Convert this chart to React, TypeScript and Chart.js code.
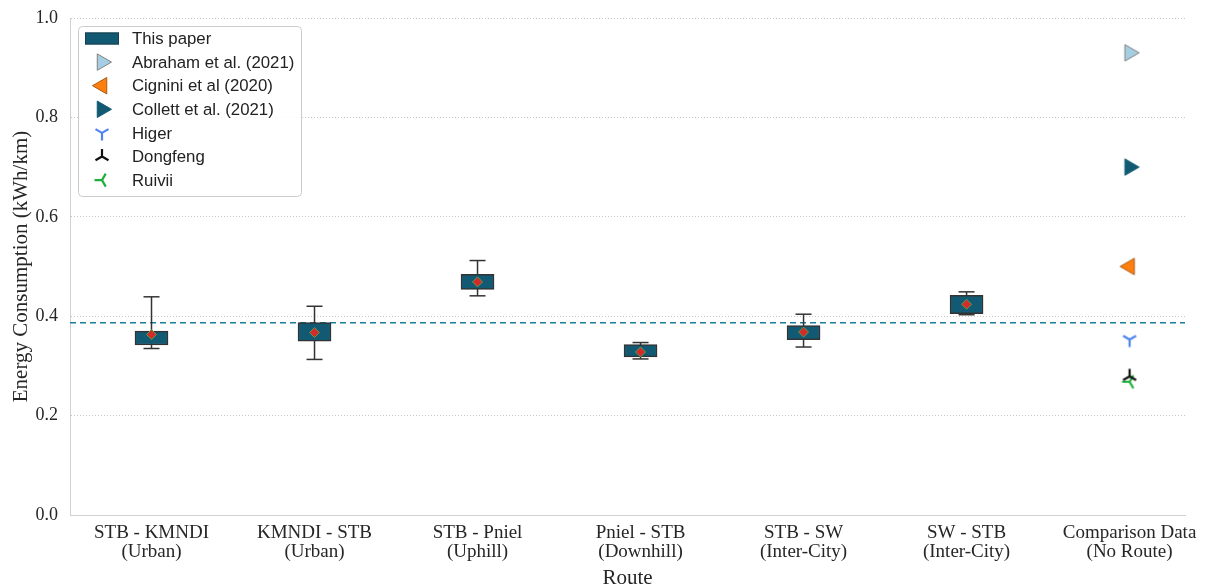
import React, { useEffect, useRef } from 'react';
import { Chart, registerables } from 'chart.js';

Chart.register(...registerables);

// ---------------- data ----------------
const routeLabels: string[][] = [
  ['STB - KMNDI', '(Urban)'],
  ['KMNDI - STB', '(Urban)'],
  ['STB - Pniel', '(Uphill)'],
  ['Pniel - STB', '(Downhill)'],
  ['STB - SW', '(Inter-City)'],
  ['SW - STB', '(Inter-City)'],
  ['Comparison Data', '(No Route)'],
];
const whiskerLow = [0.335, 0.313, 0.441, 0.314, 0.338, 0.403];
const boxLow = [0.342, 0.350, 0.454, 0.318, 0.353, 0.405];
const boxHigh = [0.370, 0.387, 0.484, 0.343, 0.381, 0.442];
const whiskerHigh = [0.439, 0.420, 0.512, 0.347, 0.404, 0.449];
const meanValues = [0.363, 0.367, 0.469, 0.328, 0.368, 0.424];
const averageConsumption = 0.387;
const comparisonNames = [
  'Abraham et al. (2021)',
  'Cignini et al (2020)',
  'Collett et al. (2021)',
  'Higer',
  'Dongfeng',
  'Ruivii',
];
const comparisonValues = [0.93, 0.5, 0.7, 0.353, 0.279, 0.268];
const comparisonPosition = 6;
const yTickValues = [0, 0.2, 0.4, 0.6, 0.8, 1.0];
const thisPaperLabel = 'This paper';

// ---------------- styles ----------------
const BOX_COLOR = '#125a73';
const EDGE_COLOR = '#333333';
const SERIF = '"Liberation Serif", "Times New Roman", Times, serif';
const SANS = '"Liberation Sans", Arial, Helvetica, sans-serif';

type MarkerSpec = { kind: string; fill: string; stroke: string };
const comparisonMarkers: MarkerSpec[] = [
  { kind: 'triRight', fill: '#a6cee3', stroke: '#808080' },
  { kind: 'triLeft', fill: '#ff7f0e', stroke: '#a85a12' },
  { kind: 'triRight', fill: '#125a73', stroke: '#125a73' },
  { kind: 'spokeDown', fill: '#4e84ee', stroke: '#4e84ee' },
  { kind: 'spokeUp', fill: '#111111', stroke: '#111111' },
  { kind: 'spokeLeft', fill: '#1fae3a', stroke: '#1fae3a' },
];

function drawMarker(ctx: CanvasRenderingContext2D, m: MarkerSpec, x: number, y: number) {
  ctx.save();
  if (m.kind === 'triRight' || m.kind === 'triLeft') {
    const r = 9.5;
    const d = m.kind === 'triRight' ? 1 : -1;
    ctx.beginPath();
    ctx.moveTo(x + d * r, y);
    ctx.lineTo(x - d * r * 0.5, y - r * 0.866);
    ctx.lineTo(x - d * r * 0.5, y + r * 0.866);
    ctx.closePath();
    ctx.fillStyle = m.fill;
    ctx.fill();
    ctx.lineWidth = 1;
    ctx.strokeStyle = m.stroke;
    ctx.stroke();
  } else {
    const r = 7.5;
    let dirs: number[][] = [];
    if (m.kind === 'spokeDown') dirs = [[0, 1], [-0.866, -0.5], [0.866, -0.5]];
    if (m.kind === 'spokeUp') dirs = [[0, -1], [-0.866, 0.5], [0.866, 0.5]];
    if (m.kind === 'spokeLeft') dirs = [[-1, 0], [0.5, -0.866], [0.5, 0.866]];
    ctx.beginPath();
    dirs.forEach(([dx, dy]) => {
      ctx.moveTo(x, y);
      ctx.lineTo(x + dx * r, y + dy * r);
    });
    ctx.lineWidth = 2.2;
    ctx.strokeStyle = m.stroke;
    ctx.stroke();
  }
  ctx.restore();
}

function markerCanvas(m: MarkerSpec): HTMLCanvasElement {
  const c = document.createElement('canvas');
  c.width = 24;
  c.height = 24;
  const ctx = c.getContext('2d')!;
  drawMarker(ctx, m, 12, 12);
  return c;
}

const insideLegend = {
  id: 'insideLegend',
  afterDraw(chart: any) {
    const ctx: CanvasRenderingContext2D = chart.ctx;
    const area = chart.chartArea;
    const x0 = area.left + 8;
    const y0 = area.top + 8;
    const w = 223;
    const rowH = 23.6;
    const h = 170;
    ctx.save();
    ctx.beginPath();
    (ctx as any).roundRect(x0 + 0.5, y0 + 0.5, w, h, 4);
    ctx.fillStyle = 'rgba(255,255,255,0.85)';
    ctx.fill();
    ctx.strokeStyle = '#cccccc';
    ctx.lineWidth = 1;
    ctx.stroke();

    const markerX = x0 + 24;
    const textX = x0 + 54;
    const font = `16.8px ${SANS}`;
    ctx.textBaseline = 'middle';
    ctx.textAlign = 'left';

    let cy = y0 + 12.5;
    ctx.fillStyle = BOX_COLOR;
    ctx.fillRect(markerX - 17, cy - 6, 34, 12);
    ctx.strokeStyle = '#1d3f4c';
    ctx.lineWidth = 1;
    ctx.strokeRect(markerX - 17 + 0.5, cy - 6 + 0.5, 33, 11);
    ctx.font = font;
    ctx.fillStyle = '#222222';
    ctx.fillText(thisPaperLabel, textX, cy + 1);

    comparisonNames.forEach((name, k) => {
      cy += rowH;
      drawMarker(ctx, comparisonMarkers[k], markerX, cy);
      ctx.fillStyle = '#222222';
      ctx.font = font;
      ctx.textBaseline = 'middle';
      ctx.fillText(name, textX, cy + 1);
    });
    ctx.restore();
  },
};

export default function App() {
  const canvasRef = useRef<HTMLCanvasElement>(null);

  useEffect(() => {
    const datasets: any[] = [];
    const xMin = -0.5;
    const xMax = 6.34;

    datasets.push({
      type: 'line',
      data: [
        { x: xMin, y: averageConsumption },
        { x: xMax, y: averageConsumption },
      ],
      borderColor: '#1b7c9c',
      borderDash: [6, 4],
      borderWidth: 1.5,
      pointRadius: 0,
      order: 10,
    });

    whiskerLow.forEach((lo, i) => {
      datasets.push({
        type: 'line',
        data: [
          { x: i, y: lo },
          { x: i, y: whiskerHigh[i] },
        ],
        borderColor: EDGE_COLOR,
        borderWidth: 1.5,
        pointRadius: 0,
        order: 9,
      });
    });

    datasets.push({
      type: 'bar',
      data: boxLow.map((lo, i) => ({ x: i, y: [lo, boxHigh[i]] })),
      backgroundColor: BOX_COLOR,
      borderColor: EDGE_COLOR,
      borderWidth: 1.5,
      borderSkipped: false,
      barThickness: 33,
      order: 5,
    });

    datasets.push({
      type: 'scatter',
      data: [
        ...whiskerLow.map((v, i) => ({ x: i, y: v })),
        ...whiskerHigh.map((v, i) => ({ x: i, y: v })),
      ],
      pointStyle: 'line',
      pointRadius: 8,
      pointBorderWidth: 1.5,
      pointBorderColor: EDGE_COLOR,
      borderColor: EDGE_COLOR,
      order: 4,
    });

    datasets.push({
      type: 'scatter',
      data: meanValues.map((v, i) => ({ x: i, y: v })),
      pointStyle: 'rectRot',
      pointRadius: 5,
      pointBackgroundColor: '#d42a2a',
      pointBorderColor: '#58a04c',
      pointBorderWidth: 1,
      order: 3,
    });

    comparisonNames.forEach((name, k) => {
      datasets.push({
        type: 'scatter',
        label: name,
        data: [{ x: comparisonPosition, y: comparisonValues[k] }],
        pointStyle: markerCanvas(comparisonMarkers[k]),
        pointRadius: 10,
        order: 2,
      });
    });

    const chart = new Chart(canvasRef.current!, {
      type: 'line',
      data: { datasets },
      plugins: [insideLegend],
      options: {
        responsive: false,
        animation: false,
        devicePixelRatio: 1,
        events: [],
        layout: { padding: { top: 18, right: 23, bottom: 0, left: 0 } },
        plugins: {
          legend: { display: false },
          tooltip: { enabled: false },
        },
        scales: {
          x: {
            type: 'linear',
            min: xMin,
            max: xMax,
            offset: false,
            afterBuildTicks: (scale: any) => {
              scale.ticks = routeLabels.map((_, i) => ({ value: i }));
            },
            afterFit: (scale: any) => {
              scale.height = 72;
            },
            grid: { display: false, drawTicks: false, offset: false },
            border: { display: true, color: '#d0d0d0', width: 1 },
            ticks: {
              autoSkip: false,
              maxRotation: 0,
              padding: 9,
              color: '#262626',
              font: { family: SERIF, size: 19, lineHeight: 1.0 },
              callback: (v: any) => routeLabels[Math.round(v)] as any,
            },
            title: {
              display: true,
              text: 'Route',
              color: '#262626',
              font: { family: SERIF, size: 21, lineHeight: 1.0 },
              padding: { top: 0, bottom: -2 },
            },
          },
          y: {
            type: 'linear',
            min: 0,
            max: 1,
            afterBuildTicks: (scale: any) => {
              scale.ticks = yTickValues.map((v) => ({ value: v }));
            },
            afterFit: (scale: any) => {
              scale.width = 70;
              scale.paddingTop = 0;
              scale.paddingBottom = 0;
            },
            grid: { display: true, color: '#c8c8c8', lineWidth: 1, drawTicks: false },
            border: { display: true, color: '#d0d0d0', width: 1, dash: [1, 2] },
            ticks: {
              padding: 12,
              color: '#262626',
              font: { family: SERIF, size: 18 },
              callback: (v: any) => Number(v).toFixed(1),
            },
            title: {
              display: true,
              text: 'Energy Consumption (kWh/km)',
              color: '#262626',
              font: { family: SERIF, size: 21 },
              padding: { top: 9, bottom: 0 },
            },
          },
        },
      } as any,
    });
    return () => chart.destroy();
  }, []);

  return (
    <div
      style={{
        position: 'fixed',
        left: 0,
        top: 0,
        width: 1208,
        height: 587,
        background: '#ffffff',
      }}
    >
      <canvas ref={canvasRef} width={1208} height={587} />
    </div>
  );
}
